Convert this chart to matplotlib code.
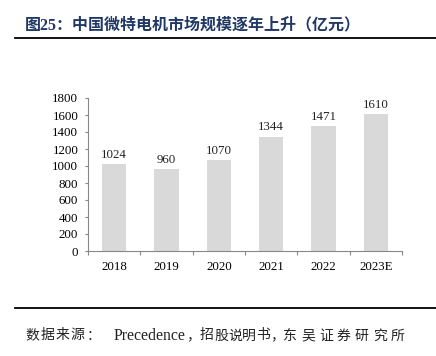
import matplotlib
matplotlib.use("Agg")
from matplotlib import pyplot as plt

# data
years = ["2018", "2019", "2020", "2021", "2022", "2023E"]
market_size = [1024, 960, 1070, 1344, 1471, 1610]
y_ticks = [0, 200, 400, 600, 800, 1000, 1200, 1400, 1600, 1800]

plt.rcParams["font.family"] = ["Liberation Serif", "Noto Sans CJK SC"]

W, H = 436, 356
fig = plt.figure(figsize=(W / 100, H / 100), dpi=100)
ax = fig.add_axes([88 / W, 1 - 251 / H, (402 - 88) / W, (251 - 98) / H])

x = list(range(len(years)))
ax.bar(x, market_size, width=0.46, color="#d9d9d9")
for xi, v in zip(x, market_size):
    ax.text(xi, v + 40, str(v), ha="center", va="bottom", fontsize=9.3, color="#222222")

ax.set_xlim(-0.5, len(years) - 0.5)
ax.set_ylim(0, 1800)
ax.set_yticks(y_ticks)
ax.set_yticklabels([str(t) for t in y_ticks], fontsize=9.3)
# category ticks at the boundaries, labels centred
ax.set_xticks([i - 0.5 for i in range(len(years) + 1)])
ax.set_xticklabels([])
ax.set_xticks(x, minor=True)
ax.set_xticklabels(years, minor=True, fontsize=9.3)
ax.tick_params(axis="x", which="minor", length=0, pad=7)
ax.tick_params(axis="x", which="major", length=3, color="#888888", direction="out")
ax.tick_params(axis="y", length=2, color="#888888", pad=5)

for s in ["top", "right"]:
    ax.spines[s].set_visible(False)
for s in ["left", "bottom"]:
    ax.spines[s].set_color("#888888")
    ax.spines[s].set_linewidth(0.8)

# title
fig.text(25 / W, 1 - 25 / H, "图25：中国微特电机市场规模逐年上升（亿元）",
         fontsize=11.5, fontweight="bold", color="#1f3864", va="center", ha="left")
fig.add_artist(plt.Line2D([15 / W, 1], [1 - 38 / H] * 2, color="black", linewidth=1.3))
fig.add_artist(plt.Line2D([15 / W, 1], [1 - 308 / H] * 2, color="black", linewidth=1.3))

# source line: the original uses loose CJK letter spacing, so place glyphs on a pitch
src_y = 1 - 336 / H


def spaced(s, x0, pitch, fs=10):
    for i, ch in enumerate(s):
        fig.text((x0 + i * pitch) / W, src_y, ch, fontsize=fs, color="#222222", va="center")


spaced("数据来源：", 25, 15.3)
fig.text(114 / W, src_y, "Precedence", fontsize=11.3, color="#222222", va="center")
spaced("，招股说明书，", 186, 14.0)
spaced("东吴证券研究所", 283, 18.0)

fig.savefig("out.png", dpi=100)
